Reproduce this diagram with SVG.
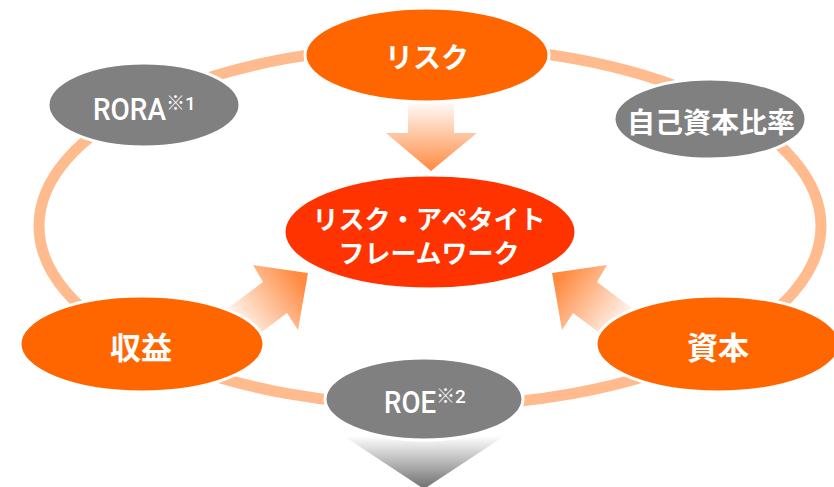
<svg xmlns="http://www.w3.org/2000/svg" width="834" height="487" viewBox="0 0 834 487">
  <style>
    .ring { fill: none; stroke: #FFBB8E; stroke-width: 11; }
    .orange { fill: #FF6600; stroke: #FFFFFF; stroke-width: 3; }
    .red { fill: #FF3300; stroke: #FFFFFF; stroke-width: 3; }
    .gray { fill: #808080; stroke: #FFFFFF; stroke-width: 3; }
    .jp { font-family: "Noto Sans CJK JP", "Noto Sans", sans-serif; font-weight: bold; fill: #FFFFFF; text-anchor: middle; }
    .lat { font-family: Roboto, "Liberation Sans", "Noto Sans CJK JP", sans-serif; font-weight: 500; fill: #FFFFFF; }
    .sup { font-family: Roboto, "Noto Sans CJK JP", sans-serif; font-weight: 500; font-size: 19px; fill: #FFFFFF; }
  </style>
  <defs>
    <linearGradient id="gDown" gradientUnits="userSpaceOnUse" x1="0" y1="100" x2="0" y2="171">
      <stop offset="0" stop-color="#FFFFFF"/>
      <stop offset="1" stop-color="#FF8A40"/>
    </linearGradient>
    <linearGradient id="gLeft" gradientUnits="userSpaceOnUse" x1="232" y1="328" x2="300" y2="278">
      <stop offset="0" stop-color="#FFFFFF"/>
      <stop offset="1" stop-color="#FF8A40"/>
    </linearGradient>
    <linearGradient id="gRight" gradientUnits="userSpaceOnUse" x1="628" y1="328" x2="560" y2="278">
      <stop offset="0" stop-color="#FFFFFF"/>
      <stop offset="1" stop-color="#FF8A40"/>
    </linearGradient>
    <linearGradient id="gGray" gradientUnits="userSpaceOnUse" x1="0" y1="436" x2="0" y2="487">
      <stop offset="0" stop-color="#FFFFFF"/>
      <stop offset="1" stop-color="#737373"/>
    </linearGradient>
  </defs>

  <g id="connectors">
    <ellipse class="ring" cx="430" cy="226" rx="391" ry="180"/>
    <polygon fill="url(#gDown)" points="408,96 454,96 454,133 477,133 431,171 386,133 408,133"/>
    <polygon fill="url(#gLeft)" points="199,330 263,282 253,265 308,273 298,330 287,313 223,361"/>
    <polygon fill="url(#gRight)" points="661,330 597,282 607,265 552,273 562,330 573,313 637,361"/>
    <polygon fill="url(#gGray)" points="339,433 509,433 424,489"/>
  </g>

  <g id="node-risk">
    <ellipse class="orange" cx="427" cy="55" rx="122" ry="47"/>
    <text class="jp" x="427" y="68" font-size="28">リスク</text>
  </g>

  <g id="node-rora">
    <ellipse class="gray" cx="144" cy="105" rx="96" ry="42"/>
    <text class="lat" y="120" font-size="31"><tspan x="93" textLength="73" lengthAdjust="spacingAndGlyphs">RORA</tspan><tspan class="sup" x="166" y="110">※1</tspan></text>
  </g>

  <g id="node-capital-ratio">
    <ellipse class="gray" cx="710" cy="119" rx="96" ry="40"/>
    <text class="jp" x="711" y="133" font-size="28">自己資本比率</text>
  </g>

  <g id="node-raf">
    <ellipse class="red" cx="430" cy="232" rx="146" ry="57"/>
    <text class="jp" x="429" y="229" font-size="26">リスク・アペタイト</text>
    <text class="jp" x="429" y="263" font-size="26">フレームワーク</text>
  </g>

  <g id="node-earnings">
    <ellipse class="orange" cx="142" cy="344" rx="122" ry="48"/>
    <text class="jp" x="141" y="359" font-size="31">収益</text>
  </g>

  <g id="node-capital">
    <ellipse class="orange" cx="718" cy="344" rx="122" ry="48"/>
    <text class="jp" x="718" y="359" font-size="31">資本</text>
  </g>

  <g id="node-roe">
    <ellipse class="gray" cx="424" cy="399" rx="99" ry="41"/>
    <text class="lat" y="413" font-size="31"><tspan x="384" textLength="52" lengthAdjust="spacingAndGlyphs">ROE</tspan><tspan class="sup" x="436" y="403">※2</tspan></text>
  </g>
</svg>
